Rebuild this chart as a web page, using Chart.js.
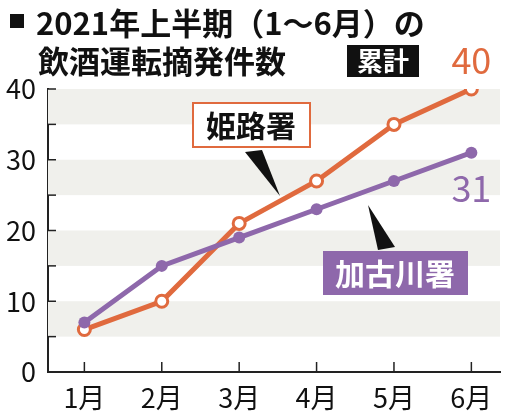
<!DOCTYPE html>
<html lang="ja">
<head>
<meta charset="UTF-8">
<script src="https://cdn.jsdelivr.net/npm/chart.js"></script>
<style>
  body { margin: 0; background: #fff; }
  #wrap { width: 509px; height: 413px; }
</style>
</head>
<body>
<div id="wrap"><canvas id="grafico"></canvas></div>
<script>
const meses = ['1月', '2月', '3月', '4月', '5月', '6月'];
const himeji = [6, 10, 21, 27, 35, 40];
const kakogawa = [7, 15, 19, 23, 27, 31];
const yTicks = [0, 10, 20, 30, 40];

const ORANGE = '#e06a3e';
const PURPLE = '#8e68ab';
const FONT = '"Noto Sans CJK JP", "Noto Sans", sans-serif';

function pontos(arr) {
    return arr.map((v, i) => ({ x: i + 1, y: v }));
}

const decoracao = {
    id: 'decoracao',
    beforeDatasetsDraw(chart) {
        const { ctx, chartArea, scales } = chart;
        ctx.save();
        ctx.fillStyle = '#f0f0ec';
        [5, 15, 25, 35].forEach(v => {
            const y1 = scales.y.getPixelForValue(v + 5);
            const y2 = scales.y.getPixelForValue(v);
            ctx.fillRect(chartArea.left, y1, chartArea.right - chartArea.left, y2 - y1);
        });
        // minor ticks on y axis
        ctx.strokeStyle = '#222';
        ctx.lineWidth = 1.5;
        for (let v = 5; v <= 40; v += 5) {
            const y = scales.y.getPixelForValue(v);
            ctx.beginPath();
            ctx.moveTo(chartArea.left, y);
            ctx.lineTo(chartArea.left + 8, y);
            ctx.stroke();
        }
        for (let i = 1; i <= 6; i++) {
            const x = scales.x.getPixelForValue(i);
            ctx.beginPath();
            ctx.moveTo(x, chartArea.bottom);
            ctx.lineTo(x, chartArea.bottom - 10);
            ctx.stroke();
        }
        ctx.restore();
    },
    afterDraw(chart) {
        const { ctx, scales } = chart;
        ctx.save();
        // title
        ctx.fillStyle = '#111';
        ctx.textBaseline = 'middle';
        ctx.font = 'bold 31px ' + FONT;
        ctx.fillRect(10, 14, 14, 14);
        ctx.fillText('2021年上半期（1～6月）の', 36, 23);
        ctx.fillText('飲酒運転摘発件数', 38, 61);
        ctx.fillRect(347, 45, 72, 32);
        ctx.fillStyle = '#fff';
        ctx.font = 'bold 26px ' + FONT;
        ctx.fillText('累計', 357, 61);

        // end value labels
        ctx.textAlign = 'center';
        ctx.font = '36px ' + FONT;
        ctx.fillStyle = ORANGE;
        ctx.fillText(String(himeji[5]), scales.x.getPixelForValue(6), 60);
        ctx.fillStyle = PURPLE;
        ctx.fillText(String(kakogawa[5]), scales.x.getPixelForValue(6), 188);

        // pointers
        ctx.fillStyle = '#111';
        ctx.beginPath();
        ctx.moveTo(245, 152); ctx.lineTo(262, 150); ctx.lineTo(280, 196); ctx.closePath();
        ctx.fill();
        ctx.beginPath();
        ctx.moveTo(368, 205); ctx.lineTo(395, 247); ctx.lineTo(378, 250); ctx.closePath();
        ctx.fill();

        // 姫路署 box
        ctx.fillStyle = '#fff';
        ctx.fillRect(193, 103, 117, 44);
        ctx.strokeStyle = ORANGE;
        ctx.lineWidth = 2;
        ctx.strokeRect(193, 103, 117, 44);
        ctx.fillStyle = '#111';
        ctx.font = 'bold 30px ' + FONT;
        ctx.fillText('姫路署', 251, 126);

        // 加古川署 box
        ctx.fillStyle = PURPLE;
        ctx.fillRect(323, 251, 145, 44);
        ctx.fillStyle = '#fff';
        ctx.fillText('加古川署', 395, 274);
        ctx.restore();
    }
};

const ctx = document.getElementById('grafico').getContext('2d');
new Chart(ctx, {
    type: 'line',
    data: {
        datasets: [{
            label: '加古川署',
            data: pontos(kakogawa),
            borderColor: PURPLE,
            backgroundColor: PURPLE,
            borderWidth: 5,
            pointRadius: 6,
            pointBorderWidth: 0,
            pointBackgroundColor: PURPLE
        }, {
            label: '姫路署',
            data: pontos(himeji),
            borderColor: ORANGE,
            backgroundColor: '#fff',
            borderWidth: 5,
            pointRadius: 6,
            pointBorderWidth: 3,
            pointBackgroundColor: '#fff'
        }]
    },
    options: {
        responsive: true,
        maintainAspectRatio: false,
        animation: false,
        layout: { padding: { top: 89, right: 0, bottom: 0, left: 0 } },
        plugins: { legend: { display: false }, tooltip: { enabled: false } },
        scales: {
            x: {
                type: 'linear',
                min: 0.53,
                max: 6.37,
                afterBuildTicks: axis => { axis.ticks = meses.map((m, i) => ({ value: i + 1 })); },
                afterFit: axis => { axis.height = 41; },
                ticks: {
                    callback: v => meses[v - 1],
                    color: '#111',
                    font: { size: 27, family: FONT },
                    padding: 2
                },
                grid: { display: false },
                border: { color: '#222', width: 2 }
            },
            y: {
                min: 0,
                max: 40,
                afterBuildTicks: axis => { axis.ticks = yTicks.map(v => ({ value: v })); },
                afterFit: axis => { axis.width = 48; },
                ticks: {
                    color: '#111',
                    font: { size: 27, family: FONT },
                    padding: 4
                },
                grid: { display: false },
                border: { color: '#222', width: 2 }
            }
        }
    },
    plugins: [decoracao]
});
</script>
</body>
</html>
